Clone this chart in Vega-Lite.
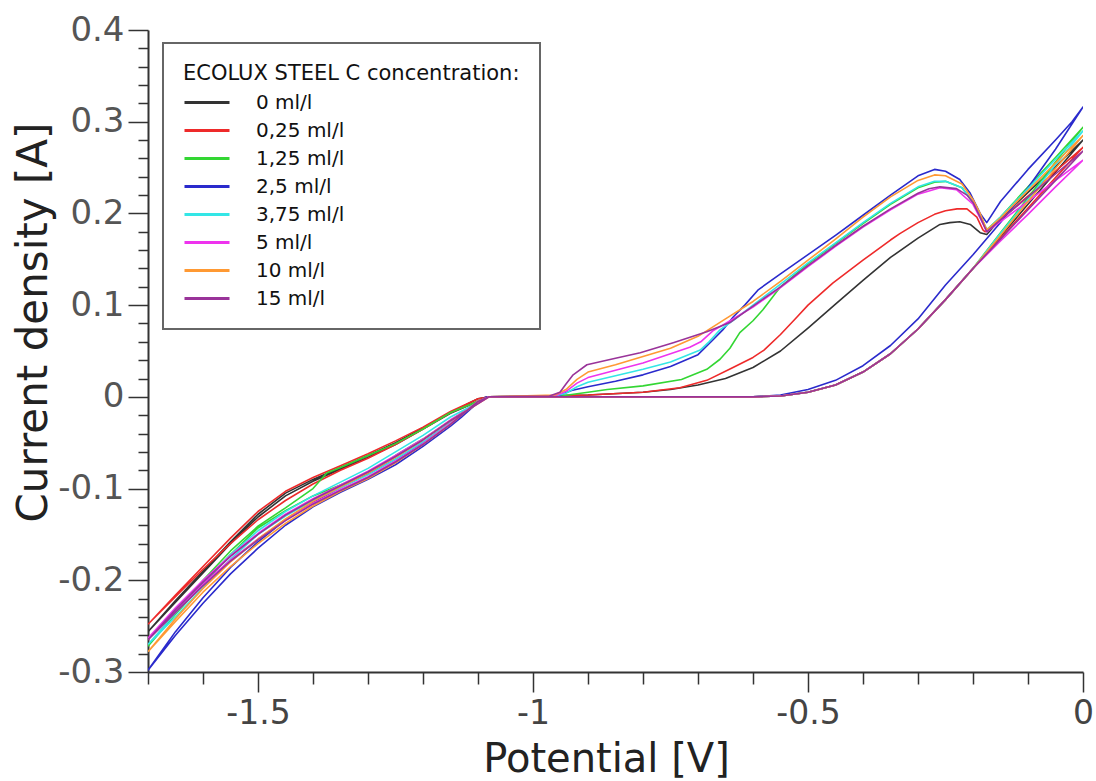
{
"$schema":"https://vega.github.io/schema/vega-lite/v6.json",
"width":935,"height":642,
"autosize":"none",
"padding":{"left":148,"top":30,"right":13,"bottom":109},
"background":"white",
"config":{"view":{"stroke":null},"font":"DejaVu Sans","legend":{"strokeWidth":2}},
"data":{"values":[
{"c":"0 ml/l","x":-1.7,"y":-0.256},{"c":"0 ml/l","x":-1.65,"y":-0.222},{"c":"0 ml/l","x":-1.6,"y":-0.19},{"c":"0 ml/l","x":-1.55,"y":-0.158},{"c":"0 ml/l","x":-1.5,"y":-0.128},{"c":"0 ml/l","x":-1.45,"y":-0.105},{"c":"0 ml/l","x":-1.4,"y":-0.09},{"c":"0 ml/l","x":-1.35,"y":-0.077},{"c":"0 ml/l","x":-1.3,"y":-0.064},{"c":"0 ml/l","x":-1.25,"y":-0.05},{"c":"0 ml/l","x":-1.2,"y":-0.034},{"c":"0 ml/l","x":-1.15,"y":-0.017},{"c":"0 ml/l","x":-1.1,"y":-0.002},{"c":"0 ml/l","x":-1.08,"y":0},{"c":"0 ml/l","x":-0.6,"y":0},{"c":"0 ml/l","x":-0.55,"y":0.001},{"c":"0 ml/l","x":-0.5,"y":0.005},{"c":"0 ml/l","x":-0.45,"y":0.013},{"c":"0 ml/l","x":-0.4,"y":0.027},{"c":"0 ml/l","x":-0.35,"y":0.047},{"c":"0 ml/l","x":-0.3,"y":0.074},{"c":"0 ml/l","x":-0.25,"y":0.106},{"c":"0 ml/l","x":-0.2,"y":0.14},{"c":"0 ml/l","x":-0.15,"y":0.175},{"c":"0 ml/l","x":-0.1,"y":0.21},{"c":"0 ml/l","x":-0.05,"y":0.245},{"c":"0 ml/l","x":0,"y":0.28},{"c":"0 ml/l","x":-0.05,"y":0.251},{"c":"0 ml/l","x":-0.1,"y":0.223},{"c":"0 ml/l","x":-0.15,"y":0.194},{"c":"0 ml/l","x":-0.175,"y":0.177},{"c":"0 ml/l","x":-0.187,"y":0.179},{"c":"0 ml/l","x":-0.205,"y":0.188},{"c":"0 ml/l","x":-0.224,"y":0.191},{"c":"0 ml/l","x":-0.242,"y":0.19},{"c":"0 ml/l","x":-0.26,"y":0.188},{"c":"0 ml/l","x":-0.3,"y":0.173},{"c":"0 ml/l","x":-0.35,"y":0.152},{"c":"0 ml/l","x":-0.4,"y":0.127},{"c":"0 ml/l","x":-0.45,"y":0.101},{"c":"0 ml/l","x":-0.5,"y":0.075},{"c":"0 ml/l","x":-0.55,"y":0.05},{"c":"0 ml/l","x":-0.6,"y":0.032},{"c":"0 ml/l","x":-0.65,"y":0.02},{"c":"0 ml/l","x":-0.7,"y":0.013},{"c":"0 ml/l","x":-0.75,"y":0.008},{"c":"0 ml/l","x":-0.8,"y":0.005},{"c":"0 ml/l","x":-0.9,"y":0.002},{"c":"0 ml/l","x":-1.0,"y":0.0005},{"c":"0 ml/l","x":-1.08,"y":0},{"c":"0 ml/l","x":-1.15,"y":-0.018},{"c":"0 ml/l","x":-1.2,"y":-0.035},{"c":"0 ml/l","x":-1.25,"y":-0.052},{"c":"0 ml/l","x":-1.3,"y":-0.066},{"c":"0 ml/l","x":-1.35,"y":-0.079},{"c":"0 ml/l","x":-1.4,"y":-0.092},{"c":"0 ml/l","x":-1.45,"y":-0.108},{"c":"0 ml/l","x":-1.5,"y":-0.131},{"c":"0 ml/l","x":-1.55,"y":-0.16},{"c":"0 ml/l","x":-1.6,"y":-0.192},{"c":"0 ml/l","x":-1.65,"y":-0.224},{"c":"0 ml/l","x":-1.7,"y":-0.256},

{"c":"0,25 ml/l","x":-1.7,"y":-0.248},{"c":"0,25 ml/l","x":-1.65,"y":-0.216},{"c":"0,25 ml/l","x":-1.6,"y":-0.185},{"c":"0,25 ml/l","x":-1.55,"y":-0.154},{"c":"0,25 ml/l","x":-1.5,"y":-0.125},{"c":"0,25 ml/l","x":-1.45,"y":-0.103},{"c":"0,25 ml/l","x":-1.4,"y":-0.088},{"c":"0,25 ml/l","x":-1.35,"y":-0.075},{"c":"0,25 ml/l","x":-1.3,"y":-0.062},{"c":"0,25 ml/l","x":-1.25,"y":-0.048},{"c":"0,25 ml/l","x":-1.2,"y":-0.033},{"c":"0,25 ml/l","x":-1.15,"y":-0.016},{"c":"0,25 ml/l","x":-1.1,"y":-0.002},{"c":"0,25 ml/l","x":-1.08,"y":0},{"c":"0,25 ml/l","x":-0.6,"y":0},{"c":"0,25 ml/l","x":-0.55,"y":0.001},{"c":"0,25 ml/l","x":-0.5,"y":0.005},{"c":"0,25 ml/l","x":-0.45,"y":0.013},{"c":"0,25 ml/l","x":-0.4,"y":0.027},{"c":"0,25 ml/l","x":-0.35,"y":0.047},{"c":"0,25 ml/l","x":-0.3,"y":0.074},{"c":"0,25 ml/l","x":-0.25,"y":0.106},{"c":"0,25 ml/l","x":-0.2,"y":0.14},{"c":"0,25 ml/l","x":-0.15,"y":0.173},{"c":"0,25 ml/l","x":-0.1,"y":0.206},{"c":"0,25 ml/l","x":-0.05,"y":0.239},{"c":"0,25 ml/l","x":0,"y":0.272},{"c":"0,25 ml/l","x":-0.05,"y":0.246},{"c":"0,25 ml/l","x":-0.1,"y":0.219},{"c":"0,25 ml/l","x":-0.15,"y":0.193},{"c":"0,25 ml/l","x":-0.178,"y":0.18},{"c":"0,25 ml/l","x":-0.182,"y":0.182},{"c":"0,25 ml/l","x":-0.193,"y":0.196},{"c":"0,25 ml/l","x":-0.211,"y":0.205},{"c":"0,25 ml/l","x":-0.229,"y":0.205},{"c":"0,25 ml/l","x":-0.25,"y":0.203},{"c":"0,25 ml/l","x":-0.27,"y":0.199},{"c":"0,25 ml/l","x":-0.3,"y":0.19},{"c":"0,25 ml/l","x":-0.333,"y":0.178},{"c":"0,25 ml/l","x":-0.35,"y":0.171},{"c":"0,25 ml/l","x":-0.4,"y":0.149},{"c":"0,25 ml/l","x":-0.455,"y":0.124},{"c":"0,25 ml/l","x":-0.5,"y":0.1},{"c":"0,25 ml/l","x":-0.52,"y":0.087},{"c":"0,25 ml/l","x":-0.55,"y":0.068},{"c":"0,25 ml/l","x":-0.58,"y":0.051},{"c":"0,25 ml/l","x":-0.6,"y":0.043},{"c":"0,25 ml/l","x":-0.64,"y":0.031},{"c":"0,25 ml/l","x":-0.684,"y":0.018},{"c":"0,25 ml/l","x":-0.733,"y":0.01},{"c":"0,25 ml/l","x":-0.8,"y":0.005},{"c":"0,25 ml/l","x":-0.9,"y":0.002},{"c":"0,25 ml/l","x":-1.0,"y":0.0005},{"c":"0,25 ml/l","x":-1.08,"y":0},{"c":"0,25 ml/l","x":-1.15,"y":-0.017},{"c":"0,25 ml/l","x":-1.2,"y":-0.035},{"c":"0,25 ml/l","x":-1.25,"y":-0.052},{"c":"0,25 ml/l","x":-1.3,"y":-0.067},{"c":"0,25 ml/l","x":-1.35,"y":-0.08},{"c":"0,25 ml/l","x":-1.4,"y":-0.095},{"c":"0,25 ml/l","x":-1.45,"y":-0.113},{"c":"0,25 ml/l","x":-1.5,"y":-0.134},{"c":"0,25 ml/l","x":-1.55,"y":-0.16},{"c":"0,25 ml/l","x":-1.6,"y":-0.188},{"c":"0,25 ml/l","x":-1.65,"y":-0.218},{"c":"0,25 ml/l","x":-1.7,"y":-0.248},

{"c":"1,25 ml/l","x":-1.7,"y":-0.272},{"c":"1,25 ml/l","x":-1.65,"y":-0.237},{"c":"1,25 ml/l","x":-1.6,"y":-0.204},{"c":"1,25 ml/l","x":-1.55,"y":-0.172},{"c":"1,25 ml/l","x":-1.5,"y":-0.143},{"c":"1,25 ml/l","x":-1.45,"y":-0.124},{"c":"1,25 ml/l","x":-1.4,"y":-0.108},{"c":"1,25 ml/l","x":-1.35,"y":-0.096},{"c":"1,25 ml/l","x":-1.3,"y":-0.083},{"c":"1,25 ml/l","x":-1.25,"y":-0.064},{"c":"1,25 ml/l","x":-1.2,"y":-0.046},{"c":"1,25 ml/l","x":-1.15,"y":-0.026},{"c":"1,25 ml/l","x":-1.1,"y":-0.005},{"c":"1,25 ml/l","x":-1.08,"y":0},{"c":"1,25 ml/l","x":-0.6,"y":0},{"c":"1,25 ml/l","x":-0.55,"y":0.001},{"c":"1,25 ml/l","x":-0.5,"y":0.005},{"c":"1,25 ml/l","x":-0.45,"y":0.013},{"c":"1,25 ml/l","x":-0.4,"y":0.027},{"c":"1,25 ml/l","x":-0.35,"y":0.047},{"c":"1,25 ml/l","x":-0.3,"y":0.074},{"c":"1,25 ml/l","x":-0.25,"y":0.106},{"c":"1,25 ml/l","x":-0.2,"y":0.14},{"c":"1,25 ml/l","x":-0.15,"y":0.179},{"c":"1,25 ml/l","x":-0.1,"y":0.217},{"c":"1,25 ml/l","x":-0.05,"y":0.256},{"c":"1,25 ml/l","x":0,"y":0.294},{"c":"1,25 ml/l","x":-0.05,"y":0.261},{"c":"1,25 ml/l","x":-0.1,"y":0.229},{"c":"1,25 ml/l","x":-0.15,"y":0.196},{"c":"1,25 ml/l","x":-0.175,"y":0.182},{"c":"1,25 ml/l","x":-0.187,"y":0.198},{"c":"1,25 ml/l","x":-0.2,"y":0.212},{"c":"1,25 ml/l","x":-0.22,"y":0.228},{"c":"1,25 ml/l","x":-0.25,"y":0.235},{"c":"1,25 ml/l","x":-0.27,"y":0.234},{"c":"1,25 ml/l","x":-0.3,"y":0.228},{"c":"1,25 ml/l","x":-0.35,"y":0.21},{"c":"1,25 ml/l","x":-0.4,"y":0.189},{"c":"1,25 ml/l","x":-0.45,"y":0.167},{"c":"1,25 ml/l","x":-0.5,"y":0.145},{"c":"1,25 ml/l","x":-0.55,"y":0.12},{"c":"1,25 ml/l","x":-0.582,"y":0.095},{"c":"1,25 ml/l","x":-0.6,"y":0.083},{"c":"1,25 ml/l","x":-0.624,"y":0.07},{"c":"1,25 ml/l","x":-0.642,"y":0.053},{"c":"1,25 ml/l","x":-0.66,"y":0.041},{"c":"1,25 ml/l","x":-0.684,"y":0.03},{"c":"1,25 ml/l","x":-0.73,"y":0.019},{"c":"1,25 ml/l","x":-0.8,"y":0.012},{"c":"1,25 ml/l","x":-0.865,"y":0.008},{"c":"1,25 ml/l","x":-0.9,"y":0.005},{"c":"1,25 ml/l","x":-0.95,"y":0.001},{"c":"1,25 ml/l","x":-1.08,"y":0},{"c":"1,25 ml/l","x":-1.15,"y":-0.017},{"c":"1,25 ml/l","x":-1.2,"y":-0.035},{"c":"1,25 ml/l","x":-1.25,"y":-0.051},{"c":"1,25 ml/l","x":-1.3,"y":-0.064},{"c":"1,25 ml/l","x":-1.35,"y":-0.077},{"c":"1,25 ml/l","x":-1.375,"y":-0.083},{"c":"1,25 ml/l","x":-1.4,"y":-0.1},{"c":"1,25 ml/l","x":-1.45,"y":-0.121},{"c":"1,25 ml/l","x":-1.5,"y":-0.141},{"c":"1,25 ml/l","x":-1.55,"y":-0.168},{"c":"1,25 ml/l","x":-1.6,"y":-0.2},{"c":"1,25 ml/l","x":-1.65,"y":-0.235},{"c":"1,25 ml/l","x":-1.7,"y":-0.272},

{"c":"2,5 ml/l","x":-1.7,"y":-0.298},{"c":"2,5 ml/l","x":-1.65,"y":-0.26},{"c":"2,5 ml/l","x":-1.6,"y":-0.225},{"c":"2,5 ml/l","x":-1.55,"y":-0.193},{"c":"2,5 ml/l","x":-1.5,"y":-0.165},{"c":"2,5 ml/l","x":-1.45,"y":-0.14},{"c":"2,5 ml/l","x":-1.4,"y":-0.12},{"c":"2,5 ml/l","x":-1.35,"y":-0.104},{"c":"2,5 ml/l","x":-1.3,"y":-0.09},{"c":"2,5 ml/l","x":-1.25,"y":-0.074},{"c":"2,5 ml/l","x":-1.2,"y":-0.054},{"c":"2,5 ml/l","x":-1.15,"y":-0.032},{"c":"2,5 ml/l","x":-1.13,"y":-0.022},{"c":"2,5 ml/l","x":-1.1,"y":-0.006},{"c":"2,5 ml/l","x":-1.085,"y":0},{"c":"2,5 ml/l","x":-0.6,"y":0},{"c":"2,5 ml/l","x":-0.55,"y":0.002},{"c":"2,5 ml/l","x":-0.5,"y":0.008},{"c":"2,5 ml/l","x":-0.45,"y":0.018},{"c":"2,5 ml/l","x":-0.4,"y":0.034},{"c":"2,5 ml/l","x":-0.35,"y":0.056},{"c":"2,5 ml/l","x":-0.3,"y":0.085},{"c":"2,5 ml/l","x":-0.25,"y":0.122},{"c":"2,5 ml/l","x":-0.2,"y":0.155},{"c":"2,5 ml/l","x":-0.15,"y":0.19},{"c":"2,5 ml/l","x":-0.1,"y":0.228},{"c":"2,5 ml/l","x":-0.05,"y":0.27},{"c":"2,5 ml/l","x":0,"y":0.316},{"c":"2,5 ml/l","x":-0.02,"y":0.3},{"c":"2,5 ml/l","x":-0.05,"y":0.28},{"c":"2,5 ml/l","x":-0.1,"y":0.248},{"c":"2,5 ml/l","x":-0.15,"y":0.213},{"c":"2,5 ml/l","x":-0.175,"y":0.19},{"c":"2,5 ml/l","x":-0.187,"y":0.2},{"c":"2,5 ml/l","x":-0.205,"y":0.222},{"c":"2,5 ml/l","x":-0.224,"y":0.237},{"c":"2,5 ml/l","x":-0.25,"y":0.246},{"c":"2,5 ml/l","x":-0.27,"y":0.248},{"c":"2,5 ml/l","x":-0.3,"y":0.241},{"c":"2,5 ml/l","x":-0.35,"y":0.22},{"c":"2,5 ml/l","x":-0.4,"y":0.198},{"c":"2,5 ml/l","x":-0.45,"y":0.176},{"c":"2,5 ml/l","x":-0.5,"y":0.155},{"c":"2,5 ml/l","x":-0.55,"y":0.134},{"c":"2,5 ml/l","x":-0.59,"y":0.117},{"c":"2,5 ml/l","x":-0.615,"y":0.1},{"c":"2,5 ml/l","x":-0.636,"y":0.087},{"c":"2,5 ml/l","x":-0.655,"y":0.073},{"c":"2,5 ml/l","x":-0.673,"y":0.062},{"c":"2,5 ml/l","x":-0.7,"y":0.046},{"c":"2,5 ml/l","x":-0.75,"y":0.033},{"c":"2,5 ml/l","x":-0.8,"y":0.024},{"c":"2,5 ml/l","x":-0.85,"y":0.017},{"c":"2,5 ml/l","x":-0.9,"y":0.011},{"c":"2,5 ml/l","x":-0.93,"y":0.007},{"c":"2,5 ml/l","x":-0.95,"y":0.002},{"c":"2,5 ml/l","x":-0.97,"y":0},{"c":"2,5 ml/l","x":-1.085,"y":0},{"c":"2,5 ml/l","x":-1.15,"y":-0.028},{"c":"2,5 ml/l","x":-1.2,"y":-0.05},{"c":"2,5 ml/l","x":-1.25,"y":-0.068},{"c":"2,5 ml/l","x":-1.3,"y":-0.084},{"c":"2,5 ml/l","x":-1.35,"y":-0.099},{"c":"2,5 ml/l","x":-1.4,"y":-0.115},{"c":"2,5 ml/l","x":-1.45,"y":-0.134},{"c":"2,5 ml/l","x":-1.5,"y":-0.158},{"c":"2,5 ml/l","x":-1.55,"y":-0.186},{"c":"2,5 ml/l","x":-1.6,"y":-0.219},{"c":"2,5 ml/l","x":-1.65,"y":-0.256},{"c":"2,5 ml/l","x":-1.7,"y":-0.298},

{"c":"3,75 ml/l","x":-1.7,"y":-0.27},{"c":"3,75 ml/l","x":-1.65,"y":-0.24},{"c":"3,75 ml/l","x":-1.6,"y":-0.208},{"c":"3,75 ml/l","x":-1.55,"y":-0.177},{"c":"3,75 ml/l","x":-1.5,"y":-0.15},{"c":"3,75 ml/l","x":-1.45,"y":-0.13},{"c":"3,75 ml/l","x":-1.4,"y":-0.113},{"c":"3,75 ml/l","x":-1.35,"y":-0.099},{"c":"3,75 ml/l","x":-1.3,"y":-0.085},{"c":"3,75 ml/l","x":-1.25,"y":-0.068},{"c":"3,75 ml/l","x":-1.2,"y":-0.049},{"c":"3,75 ml/l","x":-1.15,"y":-0.028},{"c":"3,75 ml/l","x":-1.1,"y":-0.005},{"c":"3,75 ml/l","x":-1.08,"y":0},{"c":"3,75 ml/l","x":-0.6,"y":0},{"c":"3,75 ml/l","x":-0.55,"y":0.001},{"c":"3,75 ml/l","x":-0.5,"y":0.005},{"c":"3,75 ml/l","x":-0.45,"y":0.013},{"c":"3,75 ml/l","x":-0.4,"y":0.027},{"c":"3,75 ml/l","x":-0.35,"y":0.047},{"c":"3,75 ml/l","x":-0.3,"y":0.074},{"c":"3,75 ml/l","x":-0.25,"y":0.106},{"c":"3,75 ml/l","x":-0.2,"y":0.14},{"c":"3,75 ml/l","x":-0.15,"y":0.178},{"c":"3,75 ml/l","x":-0.1,"y":0.215},{"c":"3,75 ml/l","x":-0.05,"y":0.253},{"c":"3,75 ml/l","x":0,"y":0.29},{"c":"3,75 ml/l","x":-0.05,"y":0.259},{"c":"3,75 ml/l","x":-0.1,"y":0.227},{"c":"3,75 ml/l","x":-0.15,"y":0.196},{"c":"3,75 ml/l","x":-0.175,"y":0.182},{"c":"3,75 ml/l","x":-0.187,"y":0.198},{"c":"3,75 ml/l","x":-0.2,"y":0.212},{"c":"3,75 ml/l","x":-0.22,"y":0.228},{"c":"3,75 ml/l","x":-0.25,"y":0.235},{"c":"3,75 ml/l","x":-0.27,"y":0.235},{"c":"3,75 ml/l","x":-0.3,"y":0.229},{"c":"3,75 ml/l","x":-0.35,"y":0.211},{"c":"3,75 ml/l","x":-0.4,"y":0.19},{"c":"3,75 ml/l","x":-0.45,"y":0.168},{"c":"3,75 ml/l","x":-0.5,"y":0.146},{"c":"3,75 ml/l","x":-0.55,"y":0.123},{"c":"3,75 ml/l","x":-0.6,"y":0.1},{"c":"3,75 ml/l","x":-0.63,"y":0.086},{"c":"3,75 ml/l","x":-0.66,"y":0.073},{"c":"3,75 ml/l","x":-0.68,"y":0.06},{"c":"3,75 ml/l","x":-0.696,"y":0.051},{"c":"3,75 ml/l","x":-0.75,"y":0.038},{"c":"3,75 ml/l","x":-0.8,"y":0.03},{"c":"3,75 ml/l","x":-0.85,"y":0.023},{"c":"3,75 ml/l","x":-0.9,"y":0.016},{"c":"3,75 ml/l","x":-0.92,"y":0.011},{"c":"3,75 ml/l","x":-0.94,"y":0.004},{"c":"3,75 ml/l","x":-0.96,"y":0.001},{"c":"3,75 ml/l","x":-1.08,"y":0},{"c":"3,75 ml/l","x":-1.15,"y":-0.022},{"c":"3,75 ml/l","x":-1.2,"y":-0.042},{"c":"3,75 ml/l","x":-1.25,"y":-0.06},{"c":"3,75 ml/l","x":-1.3,"y":-0.078},{"c":"3,75 ml/l","x":-1.35,"y":-0.093},{"c":"3,75 ml/l","x":-1.4,"y":-0.108},{"c":"3,75 ml/l","x":-1.45,"y":-0.125},{"c":"3,75 ml/l","x":-1.5,"y":-0.146},{"c":"3,75 ml/l","x":-1.55,"y":-0.172},{"c":"3,75 ml/l","x":-1.6,"y":-0.203},{"c":"3,75 ml/l","x":-1.65,"y":-0.236},{"c":"3,75 ml/l","x":-1.7,"y":-0.27},

{"c":"5 ml/l","x":-1.7,"y":-0.263},{"c":"5 ml/l","x":-1.65,"y":-0.233},{"c":"5 ml/l","x":-1.6,"y":-0.204},{"c":"5 ml/l","x":-1.55,"y":-0.178},{"c":"5 ml/l","x":-1.5,"y":-0.155},{"c":"5 ml/l","x":-1.45,"y":-0.134},{"c":"5 ml/l","x":-1.4,"y":-0.116},{"c":"5 ml/l","x":-1.35,"y":-0.101},{"c":"5 ml/l","x":-1.3,"y":-0.087},{"c":"5 ml/l","x":-1.25,"y":-0.07},{"c":"5 ml/l","x":-1.2,"y":-0.051},{"c":"5 ml/l","x":-1.15,"y":-0.029},{"c":"5 ml/l","x":-1.1,"y":-0.005},{"c":"5 ml/l","x":-1.08,"y":0},{"c":"5 ml/l","x":-0.6,"y":0},{"c":"5 ml/l","x":-0.55,"y":0.001},{"c":"5 ml/l","x":-0.5,"y":0.005},{"c":"5 ml/l","x":-0.45,"y":0.013},{"c":"5 ml/l","x":-0.4,"y":0.027},{"c":"5 ml/l","x":-0.35,"y":0.047},{"c":"5 ml/l","x":-0.3,"y":0.074},{"c":"5 ml/l","x":-0.25,"y":0.106},{"c":"5 ml/l","x":-0.2,"y":0.14},{"c":"5 ml/l","x":-0.15,"y":0.17},{"c":"5 ml/l","x":-0.1,"y":0.199},{"c":"5 ml/l","x":-0.05,"y":0.229},{"c":"5 ml/l","x":0,"y":0.258},{"c":"5 ml/l","x":-0.05,"y":0.236},{"c":"5 ml/l","x":-0.1,"y":0.213},{"c":"5 ml/l","x":-0.15,"y":0.191},{"c":"5 ml/l","x":-0.175,"y":0.18},{"c":"5 ml/l","x":-0.187,"y":0.195},{"c":"5 ml/l","x":-0.2,"y":0.21},{"c":"5 ml/l","x":-0.23,"y":0.226},{"c":"5 ml/l","x":-0.26,"y":0.228},{"c":"5 ml/l","x":-0.3,"y":0.221},{"c":"5 ml/l","x":-0.35,"y":0.204},{"c":"5 ml/l","x":-0.4,"y":0.185},{"c":"5 ml/l","x":-0.45,"y":0.164},{"c":"5 ml/l","x":-0.5,"y":0.142},{"c":"5 ml/l","x":-0.55,"y":0.119},{"c":"5 ml/l","x":-0.6,"y":0.098},{"c":"5 ml/l","x":-0.65,"y":0.08},{"c":"5 ml/l","x":-0.673,"y":0.072},{"c":"5 ml/l","x":-0.695,"y":0.06},{"c":"5 ml/l","x":-0.715,"y":0.054},{"c":"5 ml/l","x":-0.75,"y":0.047},{"c":"5 ml/l","x":-0.8,"y":0.037},{"c":"5 ml/l","x":-0.85,"y":0.029},{"c":"5 ml/l","x":-0.9,"y":0.021},{"c":"5 ml/l","x":-0.92,"y":0.015},{"c":"5 ml/l","x":-0.94,"y":0.006},{"c":"5 ml/l","x":-0.96,"y":0.001},{"c":"5 ml/l","x":-1.08,"y":0},{"c":"5 ml/l","x":-1.15,"y":-0.025},{"c":"5 ml/l","x":-1.2,"y":-0.046},{"c":"5 ml/l","x":-1.25,"y":-0.064},{"c":"5 ml/l","x":-1.3,"y":-0.081},{"c":"5 ml/l","x":-1.35,"y":-0.096},{"c":"5 ml/l","x":-1.4,"y":-0.111},{"c":"5 ml/l","x":-1.45,"y":-0.128},{"c":"5 ml/l","x":-1.5,"y":-0.149},{"c":"5 ml/l","x":-1.55,"y":-0.173},{"c":"5 ml/l","x":-1.6,"y":-0.2},{"c":"5 ml/l","x":-1.65,"y":-0.23},{"c":"5 ml/l","x":-1.7,"y":-0.263},

{"c":"10 ml/l","x":-1.7,"y":-0.278},{"c":"10 ml/l","x":-1.65,"y":-0.245},{"c":"10 ml/l","x":-1.6,"y":-0.213},{"c":"10 ml/l","x":-1.55,"y":-0.185},{"c":"10 ml/l","x":-1.5,"y":-0.16},{"c":"10 ml/l","x":-1.45,"y":-0.138},{"c":"10 ml/l","x":-1.4,"y":-0.119},{"c":"10 ml/l","x":-1.35,"y":-0.103},{"c":"10 ml/l","x":-1.3,"y":-0.089},{"c":"10 ml/l","x":-1.25,"y":-0.072},{"c":"10 ml/l","x":-1.2,"y":-0.052},{"c":"10 ml/l","x":-1.15,"y":-0.03},{"c":"10 ml/l","x":-1.1,"y":-0.005},{"c":"10 ml/l","x":-1.08,"y":0},{"c":"10 ml/l","x":-0.6,"y":0},{"c":"10 ml/l","x":-0.55,"y":0.001},{"c":"10 ml/l","x":-0.5,"y":0.005},{"c":"10 ml/l","x":-0.45,"y":0.013},{"c":"10 ml/l","x":-0.4,"y":0.027},{"c":"10 ml/l","x":-0.35,"y":0.047},{"c":"10 ml/l","x":-0.3,"y":0.074},{"c":"10 ml/l","x":-0.25,"y":0.106},{"c":"10 ml/l","x":-0.2,"y":0.14},{"c":"10 ml/l","x":-0.15,"y":0.176},{"c":"10 ml/l","x":-0.1,"y":0.213},{"c":"10 ml/l","x":-0.05,"y":0.249},{"c":"10 ml/l","x":0,"y":0.285},{"c":"10 ml/l","x":-0.05,"y":0.255},{"c":"10 ml/l","x":-0.1,"y":0.225},{"c":"10 ml/l","x":-0.15,"y":0.195},{"c":"10 ml/l","x":-0.175,"y":0.182},{"c":"10 ml/l","x":-0.187,"y":0.2},{"c":"10 ml/l","x":-0.2,"y":0.215},{"c":"10 ml/l","x":-0.22,"y":0.232},{"c":"10 ml/l","x":-0.25,"y":0.241},{"c":"10 ml/l","x":-0.27,"y":0.242},{"c":"10 ml/l","x":-0.3,"y":0.236},{"c":"10 ml/l","x":-0.35,"y":0.218},{"c":"10 ml/l","x":-0.4,"y":0.196},{"c":"10 ml/l","x":-0.45,"y":0.172},{"c":"10 ml/l","x":-0.5,"y":0.149},{"c":"10 ml/l","x":-0.55,"y":0.126},{"c":"10 ml/l","x":-0.6,"y":0.104},{"c":"10 ml/l","x":-0.65,"y":0.085},{"c":"10 ml/l","x":-0.7,"y":0.066},{"c":"10 ml/l","x":-0.75,"y":0.053},{"c":"10 ml/l","x":-0.8,"y":0.044},{"c":"10 ml/l","x":-0.85,"y":0.035},{"c":"10 ml/l","x":-0.9,"y":0.027},{"c":"10 ml/l","x":-0.92,"y":0.019},{"c":"10 ml/l","x":-0.94,"y":0.008},{"c":"10 ml/l","x":-0.96,"y":0.002},{"c":"10 ml/l","x":-1.08,"y":0},{"c":"10 ml/l","x":-1.15,"y":-0.026},{"c":"10 ml/l","x":-1.2,"y":-0.047},{"c":"10 ml/l","x":-1.25,"y":-0.066},{"c":"10 ml/l","x":-1.3,"y":-0.083},{"c":"10 ml/l","x":-1.35,"y":-0.098},{"c":"10 ml/l","x":-1.4,"y":-0.114},{"c":"10 ml/l","x":-1.45,"y":-0.133},{"c":"10 ml/l","x":-1.5,"y":-0.155},{"c":"10 ml/l","x":-1.55,"y":-0.18},{"c":"10 ml/l","x":-1.6,"y":-0.209},{"c":"10 ml/l","x":-1.65,"y":-0.242},{"c":"10 ml/l","x":-1.7,"y":-0.278},

{"c":"15 ml/l","x":-1.7,"y":-0.265},{"c":"15 ml/l","x":-1.65,"y":-0.235},{"c":"15 ml/l","x":-1.6,"y":-0.206},{"c":"15 ml/l","x":-1.55,"y":-0.179},{"c":"15 ml/l","x":-1.5,"y":-0.156},{"c":"15 ml/l","x":-1.45,"y":-0.135},{"c":"15 ml/l","x":-1.4,"y":-0.117},{"c":"15 ml/l","x":-1.35,"y":-0.102},{"c":"15 ml/l","x":-1.3,"y":-0.088},{"c":"15 ml/l","x":-1.25,"y":-0.071},{"c":"15 ml/l","x":-1.2,"y":-0.052},{"c":"15 ml/l","x":-1.15,"y":-0.03},{"c":"15 ml/l","x":-1.1,"y":-0.005},{"c":"15 ml/l","x":-1.08,"y":0},{"c":"15 ml/l","x":-0.6,"y":0},{"c":"15 ml/l","x":-0.55,"y":0.001},{"c":"15 ml/l","x":-0.5,"y":0.005},{"c":"15 ml/l","x":-0.45,"y":0.013},{"c":"15 ml/l","x":-0.4,"y":0.027},{"c":"15 ml/l","x":-0.35,"y":0.047},{"c":"15 ml/l","x":-0.3,"y":0.074},{"c":"15 ml/l","x":-0.25,"y":0.106},{"c":"15 ml/l","x":-0.2,"y":0.14},{"c":"15 ml/l","x":-0.15,"y":0.172},{"c":"15 ml/l","x":-0.1,"y":0.204},{"c":"15 ml/l","x":-0.05,"y":0.236},{"c":"15 ml/l","x":0,"y":0.268},{"c":"15 ml/l","x":-0.05,"y":0.243},{"c":"15 ml/l","x":-0.1,"y":0.218},{"c":"15 ml/l","x":-0.15,"y":0.193},{"c":"15 ml/l","x":-0.175,"y":0.18},{"c":"15 ml/l","x":-0.187,"y":0.196},{"c":"15 ml/l","x":-0.2,"y":0.212},{"c":"15 ml/l","x":-0.211,"y":0.22},{"c":"15 ml/l","x":-0.23,"y":0.227},{"c":"15 ml/l","x":-0.26,"y":0.229},{"c":"15 ml/l","x":-0.28,"y":0.227},{"c":"15 ml/l","x":-0.3,"y":0.222},{"c":"15 ml/l","x":-0.35,"y":0.205},{"c":"15 ml/l","x":-0.4,"y":0.186},{"c":"15 ml/l","x":-0.45,"y":0.165},{"c":"15 ml/l","x":-0.5,"y":0.143},{"c":"15 ml/l","x":-0.55,"y":0.12},{"c":"15 ml/l","x":-0.6,"y":0.099},{"c":"15 ml/l","x":-0.642,"y":0.081},{"c":"15 ml/l","x":-0.684,"y":0.071},{"c":"15 ml/l","x":-0.745,"y":0.059},{"c":"15 ml/l","x":-0.805,"y":0.048},{"c":"15 ml/l","x":-0.85,"y":0.042},{"c":"15 ml/l","x":-0.902,"y":0.035},{"c":"15 ml/l","x":-0.927,"y":0.024},{"c":"15 ml/l","x":-0.94,"y":0.014},{"c":"15 ml/l","x":-0.951,"y":0.005},{"c":"15 ml/l","x":-0.97,"y":0.001},{"c":"15 ml/l","x":-1.08,"y":0},{"c":"15 ml/l","x":-1.15,"y":-0.026},{"c":"15 ml/l","x":-1.2,"y":-0.047},{"c":"15 ml/l","x":-1.25,"y":-0.065},{"c":"15 ml/l","x":-1.3,"y":-0.082},{"c":"15 ml/l","x":-1.35,"y":-0.097},{"c":"15 ml/l","x":-1.4,"y":-0.112},{"c":"15 ml/l","x":-1.45,"y":-0.129},{"c":"15 ml/l","x":-1.5,"y":-0.15},{"c":"15 ml/l","x":-1.55,"y":-0.174},{"c":"15 ml/l","x":-1.6,"y":-0.202},{"c":"15 ml/l","x":-1.65,"y":-0.232},{"c":"15 ml/l","x":-1.7,"y":-0.265}
]},
"mark":{"type":"line","strokeWidth":1.6,"clip":true,"strokeJoin":"round"},
"encoding":{
"x":{"field":"x","type":"quantitative",
 "scale":{"domain":[-1.7,0],"nice":false,"zero":false},
 "axis":{"title":"Potential [V]","grid":false,
  "values":[-1.7,-1.6,-1.5,-1.4,-1.3,-1.2,-1.1,-1.0,-0.9,-0.8,-0.7,-0.6,-0.5,-0.4,-0.3,-0.2,-0.1,0],
  "tickSize":{"condition":{"test":"abs(datum.value*2-round(datum.value*2))<0.001","value":20},"value":12},
  "labelExpr":"abs(datum.value*2-round(datum.value*2))<0.001 ? toString(round(datum.value*10)/10) : ''",
  "labelFont":"DejaVu Sans","labelFontSize":33,"labelColor":"#444","labelPadding":5,
  "labelFlush":false,"labelOverlap":false,"labelBound":false,
  "domainColor":"#333","domainWidth":2,"tickColor":"#333","tickWidth":1.5,
  "titleFont":"DejaVu Sans","titleFontSize":40,"titleFontWeight":"normal","titleColor":"#222",
  "titleX":458,"titleY":99,"titleBaseline":"alphabetic","titleAlign":"center"}},
"y":{"field":"y","type":"quantitative",
 "scale":{"domain":[-0.3,0.4],"nice":false,"zero":false},
 "axis":{"title":"Current density [A]","grid":false,
  "values":[-0.3,-0.28,-0.26,-0.24,-0.22,-0.2,-0.18,-0.16,-0.14,-0.12,-0.1,-0.08,-0.06,-0.04,-0.02,0,0.02,0.04,0.06,0.08,0.1,0.12,0.14,0.16,0.18,0.2,0.22,0.24,0.26,0.28,0.3,0.32,0.34,0.36,0.38,0.4],
  "tickSize":{"condition":{"test":"abs(datum.value*10-round(datum.value*10))<0.001","value":20},"value":10},
  "labelExpr":"abs(datum.value*10-round(datum.value*10))<0.001 ? toString(round(datum.value*10)/10) : ''",
  "labelFont":"DejaVu Sans","labelFontSize":34,"labelColor":"#555","labelPadding":4,
  "labelOverlap":false,"labelBound":false,"labelFlush":false,
  "domainColor":"#333","domainWidth":2,"tickColor":"#333","tickWidth":1.5,
  "titleFont":"DejaVu Sans","titleFontSize":42,"titleFontWeight":"normal","titleColor":"#222",
  "titleX":-102,"titleY":292,"titleBaseline":"alphabetic","titleAlign":"center","titleAngle":270}},
"color":{"field":"c","type":"nominal",
 "scale":{"domain":["0 ml/l","0,25 ml/l","1,25 ml/l","2,5 ml/l","3,75 ml/l","5 ml/l","10 ml/l","15 ml/l"],
  "range":["#333333","#ee2a2a","#33d633","#2a2acc","#33e6e6","#ee33ee","#ff9933","#993399"]},
 "legend":{"title":"ECOLUX STEEL C concentration:","orient":"none","legendX":15,"legendY":13,
  "strokeColor":"#666","fillColor":"#ffffff","padding":20,
  "titleFont":"DejaVu Sans","titleFontSize":21,"titleFontWeight":"normal","titleColor":"#111","titlePadding":8,"titleLimit":800,
  "labelFont":"DejaVu Sans","labelFontSize":20,"labelColor":"#111","labelOffset":52,"labelLimit":400,
  "symbolType":"M-1,0H4","symbolSize":324,"symbolStrokeWidth":3,"rowPadding":7}},
"order":{"value":null}
}
}
